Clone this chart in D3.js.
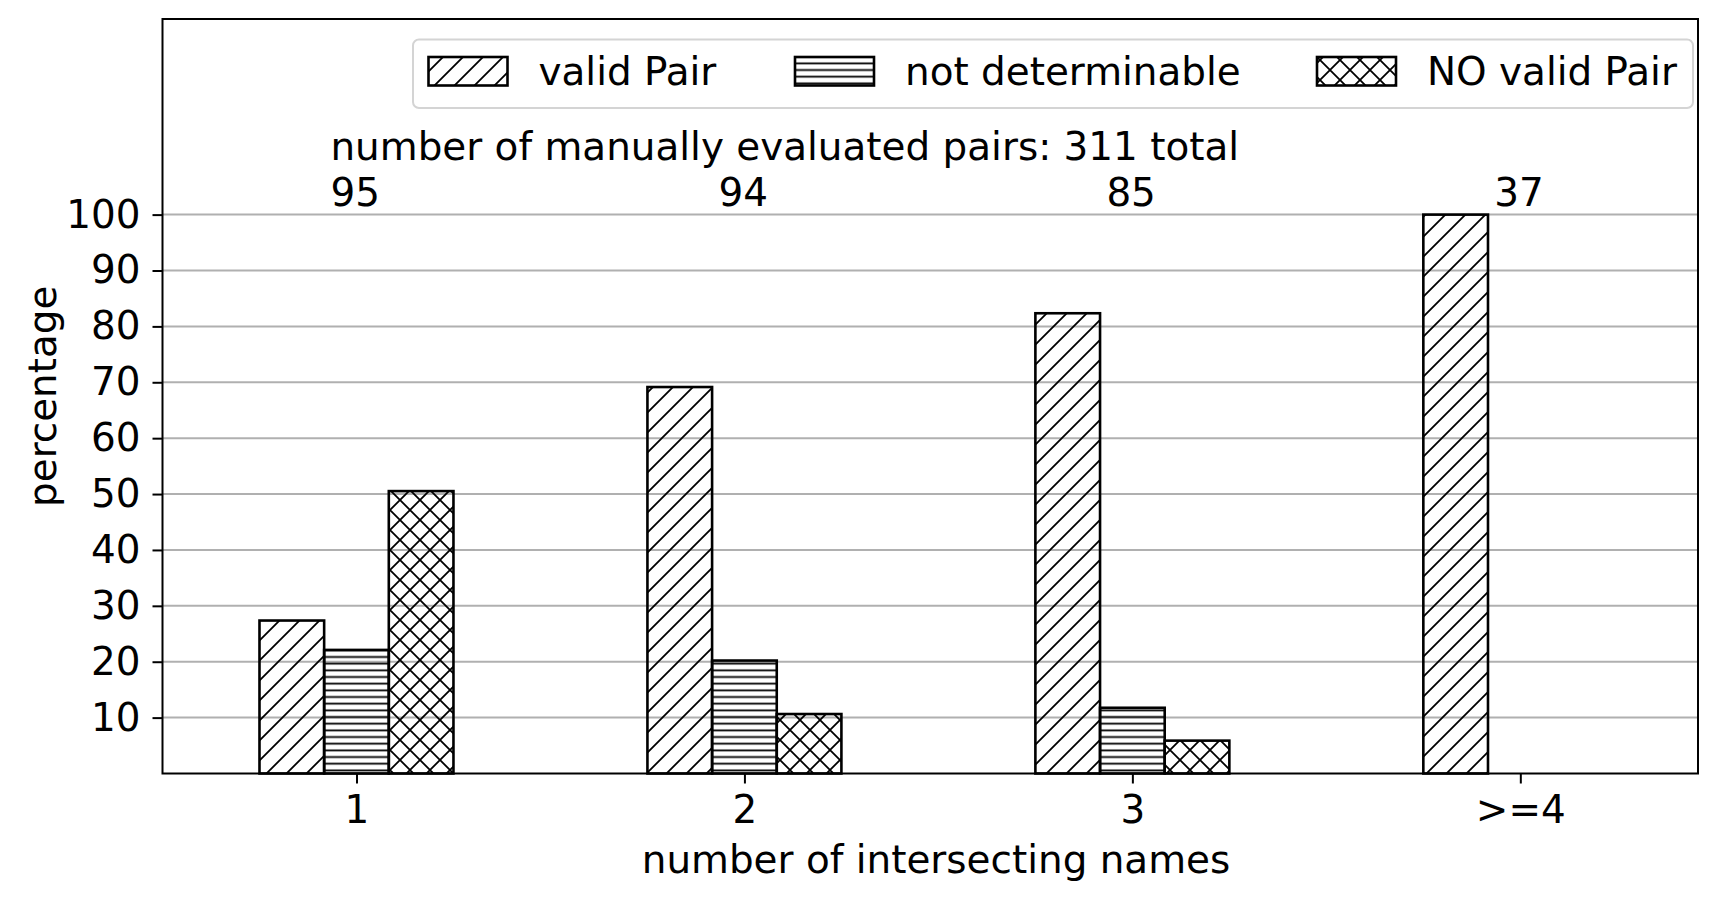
<!DOCTYPE html>
<html>
<head>
<meta charset="utf-8">
<script src="https://cdn.jsdelivr.net/npm/d3@7"></script>
<style>
  html, body { margin: 0; padding: 0; background: #ffffff; }
  svg { display: block; }
  text { font-family: "DejaVu Sans", sans-serif; fill: #000; }
</style>
</head>
<body>
<script>
// ---- data ----
const categories = ["1", "2", "3", ">=4"];
const pairCounts = [95, 94, 85, 37];
const seriesNames = ["valid Pair", "not determinable", "NO valid Pair"];
const validPair = [27.37, 69.15, 82.35, 100];
const notDeterminable = [22.11, 20.21, 11.76, 0];
const noValidPair = [50.53, 10.64, 5.88, 0];
const yTicks = [10, 20, 30, 40, 50, 60, 70, 80, 90, 100];
const headerText = "number of manually evaluated pairs: 311 total";
const xLabel = "number of intersecting names";
const yLabel = "percentage";

// ---- layout ----
const W = 1732, H = 901;
const FS = 38.9;
const plot = { left: 162.5, right: 1698, top: 19, bottom: 773.5 };
const barWidth = 1 / 6;

const svg = d3.select("body").append("svg").attr("width", W).attr("height", H);

const x = d3.scaleLinear().domain([-0.5, 3.458]).range([plot.left, plot.right]);
const y = d3.scaleLinear().domain([0, 135]).range([plot.bottom, plot.top]);

// ---- hatch patterns ----
const defs = svg.append("defs");
const hatchW = 1.8;
const pDiag = defs.append("pattern").attr("id", "hatch-diag")
  .attr("patternUnits", "userSpaceOnUse").attr("width", 20).attr("height", 20);
pDiag.append("path").attr("d", "M-5,5 L5,-5 M0,20 L20,0 M15,25 L25,15")
  .attr("stroke", "#000").attr("stroke-width", hatchW).attr("fill", "none");

const pHor = defs.append("pattern").attr("id", "hatch-hor")
  .attr("patternUnits", "userSpaceOnUse").attr("width", 20).attr("height", 6.67);
pHor.append("path").attr("d", "M0,3.33 L20,3.33")
  .attr("stroke", "#000").attr("stroke-width", hatchW).attr("fill", "none");

const pX = defs.append("pattern").attr("id", "hatch-x")
  .attr("patternUnits", "userSpaceOnUse").attr("width", 20).attr("height", 20);
pX.append("path").attr("d", "M-5,5 L5,-5 M0,20 L20,0 M15,25 L25,15 M-5,15 L5,25 M0,0 L20,20 M15,-5 L25,5")
  .attr("stroke", "#000").attr("stroke-width", hatchW).attr("fill", "none");

const fills = ["url(#hatch-diag)", "url(#hatch-hor)", "url(#hatch-x)"];
const seriesValues = [validPair, notDeterminable, noValidPair];

// ---- grid ----
svg.append("g").selectAll("line").data(yTicks).join("line")
  .attr("x1", plot.left).attr("x2", plot.right)
  .attr("y1", d => y(d)).attr("y2", d => y(d))
  .attr("stroke", "#b0b0b0").attr("stroke-width", 2);

// ---- bars ----
const bars = svg.append("g");
seriesValues.forEach((vals, s) => {
  const offset = (s - 1) * barWidth;
  bars.append("g").selectAll("rect").data(vals.map((v, i) => ({ v, i })).filter(d => d.v > 0)).join("rect")
    .attr("x", d => x(d.i + offset - barWidth / 2))
    .attr("width", d => x(d.i + offset + barWidth / 2) - x(d.i + offset - barWidth / 2))
    .attr("y", d => y(d.v))
    .attr("height", d => y(0) - y(d.v))
    .attr("fill", fills[s])
    .attr("stroke", "#000").attr("stroke-width", 2.6);
});

// ---- axes ----
const yAxis = d3.axisLeft(y).tickValues(yTicks).tickSize(10).tickPadding(12).tickFormat(d3.format("d"));
const gy = svg.append("g").attr("transform", `translate(${plot.left},0)`).call(yAxis);
const xAxis = d3.axisBottom(x).tickValues(d3.range(categories.length)).tickSize(10).tickPadding(12)
  .tickFormat(i => categories[i]);
const gx = svg.append("g").attr("transform", `translate(0,${plot.bottom})`).call(xAxis);
[gx, gy].forEach(g => {
  g.select(".domain").remove();
  g.selectAll(".tick line").attr("stroke", "#000").attr("stroke-width", 2);
  g.selectAll(".tick text").attr("font-size", FS).attr("font-family", "DejaVu Sans").attr("fill", "#000");
});

// frame
svg.append("rect").attr("x", plot.left).attr("y", plot.top)
  .attr("width", plot.right - plot.left).attr("height", plot.bottom - plot.top)
  .attr("fill", "none").attr("stroke", "#000").attr("stroke-width", 2);

// ---- count annotations ----
const labelX = -0.067, labelY = 101.6;
svg.append("g").selectAll("text").data(pairCounts).join("text")
  .attr("x", (d, i) => x(i + labelX)).attr("y", y(labelY))
  .attr("font-size", FS).text(d => d);
svg.append("text").attr("x", x(0 + labelX)).attr("y", y(labelY)).attr("dy", -FS * 1.17)
  .attr("font-size", FS).text(headerText);

// ---- axis labels ----
svg.append("text").attr("x", 936).attr("y", 873.3).attr("text-anchor", "middle")
  .attr("font-size", FS).text(xLabel);
svg.append("text").attr("transform", `translate(56,${(plot.top + plot.bottom) / 2}) rotate(-90)`)
  .attr("text-anchor", "middle").attr("font-size", FS).text(yLabel);

// ---- legend ----
const leg = svg.append("g");
leg.append("rect").attr("x", 413).attr("y", 39.5).attr("width", 1693 - 413).attr("height", 108 - 39.5)
  .attr("rx", 6).attr("ry", 6).attr("fill", "#fff").attr("fill-opacity", 0.8)
  .attr("stroke", "#d4d4d4").attr("stroke-width", 2);
const legX = [428.5, 795, 1317];
seriesNames.forEach((name, s) => {
  leg.append("rect").attr("x", legX[s]).attr("y", 57).attr("width", 79).attr("height", 28.5)
    .attr("fill", fills[s]).attr("stroke", "#000").attr("stroke-width", 2.6);
  leg.append("text").attr("x", legX[s] + 79 + 31).attr("y", 85).attr("font-size", FS).text(name);
});
</script>
</body>
</html>
